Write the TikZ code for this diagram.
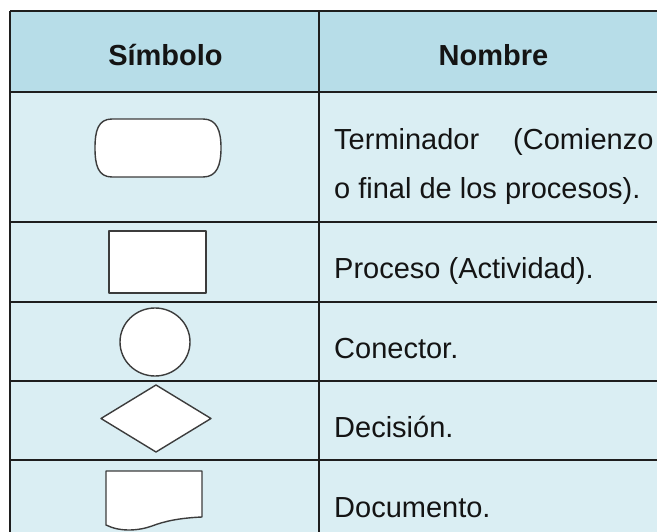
\documentclass[tikz,border=0pt]{standalone}
\usepackage{fontspec}
\setmainfont{Liberation Sans}
\definecolor{headfill}{HTML}{B7DDE8}
\definecolor{rowfill}{HTML}{DAEEF3}
\definecolor{gridline}{HTML}{1E1E1E}
\definecolor{shapeline}{HTML}{3C3C3C}
\definecolor{txt}{HTML}{141414}
\tikzset{
  gridln/.style={draw=gridline, line width=1.7pt},
  symb/.style={draw=shapeline, fill=white, line width=1.4pt, line join=round},
  headtxt/.style={font=\fontsize{29}{34}\selectfont\bfseries, text=txt, inner sep=0pt, anchor=base},
  bodytxt/.style={font=\fontsize{29}{34}\selectfont, text=txt, inner sep=0pt, anchor=base west}
}
\begin{document}
\begin{tikzpicture}[x=1pt, y=-1pt]
\useasboundingbox (0,0) rectangle (657,532);
\clip (0,0) rectangle (657,532);
% fills
\fill[headfill] (10,11) rectangle (670,92);
\fill[rowfill] (10,92) rectangle (670,545);
% grid lines
\foreach \yy in {11,92,222,302,381,460} {
  \draw[gridln] (10,\yy) -- (670,\yy);
}
\draw[gridln] (10,11) -- (10,545);
\draw[gridln] (319,11) -- (319,545);
% header
\node[headtxt] (hsym) at (165.5,66) {Símbolo};
\node[headtxt] (hnom) at (493.5,66) {Nombre};
% terminator
\draw[symb] (112,119) -- (203,119) .. controls (217,119) and (221,131) .. (221,148)
  .. controls (221,165) and (217,177) .. (203,177) -- (112,177)
  .. controls (98,177) and (95,165) .. (95,148)
  .. controls (95,131) and (98,119) .. (112,119) -- cycle;
\node[bodytxt] (t1) at (334,150) {Terminador\hspace*{34pt}(Comienzo};
\node[bodytxt] (t2) at (334,199) {o final de los procesos).};
% process
\draw[symb] (109,231) rectangle (206,293);
\node[bodytxt] (t3) at (334,279) {Proceso (Actividad).};
% connector
\draw[symb] (155,342) ellipse [x radius=35, y radius=34];
\node[bodytxt] (t4) at (334,359) {Conector.};
% decision
\draw[symb] (101,418.5) -- (156,385) -- (211,418.5) -- (156,452) -- cycle;
\node[bodytxt] (t5) at (334,437) {Decisión.};
% document
\draw[symb] (106,471) -- (202,471) -- (202,517)
  .. controls (180,518) and (165,521) .. (152,526)
  .. controls (138,531) and (120,532) .. (106,525) -- cycle;
\node[bodytxt] (t6) at (334,517) {Documento.};
\end{tikzpicture}
\end{document}
